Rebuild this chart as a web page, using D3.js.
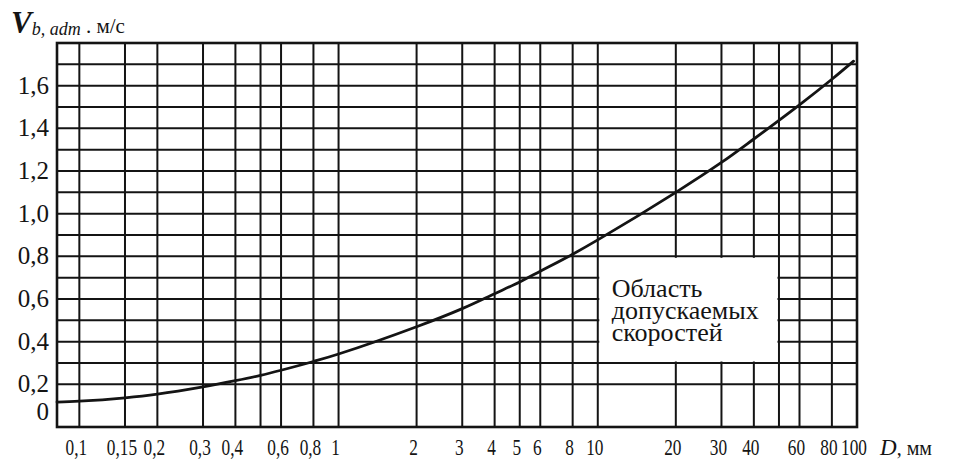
<!DOCTYPE html>
<html>
<head>
<meta charset="utf-8">
<script src="https://cdn.jsdelivr.net/npm/d3@7"></script>
<style>
  html, body { margin: 0; padding: 0; background: #fff; }
  svg { display: block; font-family: "Liberation Serif", "Times New Roman", serif; }
</style>
</head>
<body>
<svg id="chart" width="960" height="463"></svg>
<script>
// ---- data ----
const xDomain = [0.082, 100];
const yDomain = [0, 1.8];
const xGridValues = [0.1, 0.15, 0.2, 0.3, 0.4, 0.5, 0.6, 0.8, 1, 2, 3, 4, 5, 6, 8, 10, 20, 30, 40, 50, 60, 80];
const xTickLabels = [0.1, 0.15, 0.2, 0.3, 0.4, 0.6, 0.8, 1, 2, 3, 4, 5, 6, 8, 10, 20, 30, 40, 60, 80, 100];
const yGridValues = [0.2, 0.3, 0.4, 0.5, 0.6, 0.7, 0.8, 0.9, 1.0, 1.1, 1.2, 1.3, 1.4, 1.5, 1.6, 1.7];
const yTickLabels = [0, 0.2, 0.4, 0.6, 0.8, 1.0, 1.2, 1.4, 1.6];
const curveD = [0.082, 0.1, 0.15, 0.2, 0.3, 0.4, 0.5, 0.6, 0.8, 1, 2, 3, 4, 5, 6, 8, 10, 20, 30, 40, 60, 80, 97];
const curveV = [0.117, 0.121, 0.137, 0.154, 0.188, 0.217, 0.242, 0.266, 0.307, 0.342, 0.47, 0.555, 0.625, 0.68, 0.73, 0.81, 0.877, 1.10, 1.24, 1.35, 1.51, 1.63, 1.715];
const regionBox = { d0: 10, d1: 50, v0: 0.8, v1: 0.3 };
const regionText = ["Область", "допускаемых", "скоростей"];

// ---- drawing ----
const svg = d3.select("#chart");
const ink = "#141414";
const x = d3.scaleLog().domain(xDomain).range([57, 857]);
const y = d3.scaleLinear().domain(yDomain).range([427, 43]);

// grid
const grid = svg.append("g").attr("stroke", ink).attr("stroke-width", 2);
grid.selectAll("line.v").data(xGridValues).join("line")
  .attr("x1", d => x(d)).attr("x2", d => x(d))
  .attr("y1", y(yDomain[1])).attr("y2", y(yDomain[0]));
grid.selectAll("line.h").data(yGridValues).join("line")
  .attr("x1", x(xDomain[0])).attr("x2", x(xDomain[1]))
  .attr("y1", d => y(d)).attr("y2", d => y(d));

// region box (white, keeps bordering grid lines)
svg.append("rect")
  .attr("x", x(regionBox.d0) + 1.5)
  .attr("y", y(regionBox.v0) + 1.5)
  .attr("width", x(regionBox.d1) - x(regionBox.d0) - 3)
  .attr("height", y(regionBox.v1) - y(regionBox.v0) - 3)
  .attr("fill", "#fff");

// frame
svg.append("rect")
  .attr("x", x(xDomain[0])).attr("y", y(yDomain[1]))
  .attr("width", x(xDomain[1]) - x(xDomain[0]))
  .attr("height", y(yDomain[0]) - y(yDomain[1]))
  .attr("fill", "none").attr("stroke", ink).attr("stroke-width", 2.6);

// curve
const pts = curveD.map((d, i) => [d, curveV[i]]);
svg.append("path")
  .datum(pts)
  .attr("fill", "none").attr("stroke", ink).attr("stroke-width", 2.8)
  .attr("stroke-linecap", "round")
  .attr("d", d3.line().x(d => x(d[0])).y(d => y(d[1])).curve(d3.curveCatmullRom.alpha(0.5)));

// region text (one text element, three lines)
const rt = svg.append("text")
  .attr("x", x(regionBox.d0) + 14)
  .attr("y", y(regionBox.v0) + 41)
  .attr("font-size", 26)
  .attr("fill", ink);
rt.selectAll("tspan").data(regionText).join("tspan")
  .attr("x", x(regionBox.d0) + 14)
  .attr("dy", (d, i) => i === 0 ? 0 : 22)
  .text(d => d);

// y tick labels
const yfmt = v => v === 0 ? "0" : d3.format(".1f")(v).replace(".", ",");
svg.append("g").selectAll("text").data(yTickLabels).join("text")
  .attr("x", 49)
  .attr("y", d => y(d) + 8 - (d === 0 ? 15 : 0))
  .attr("text-anchor", "end")
  .attr("font-size", 25)
  .attr("fill", ink)
  .text(yfmt);

// x tick labels (condensed)
const xfmt = v => String(v).replace(".", ",");
const xl = svg.append("g").selectAll("g").data(xTickLabels).join("g")
  .attr("transform", d => `translate(${x(d) - 3},455)`);
xl.append("text")
  .attr("transform", "scale(0.72,1)")
  .attr("text-anchor", "middle")
  .attr("font-size", 24)
  .attr("fill", ink)
  .text(xfmt);

// axis titles
const yt = svg.append("text").attr("x", 11).attr("y", 33).attr("fill", ink);
yt.append("tspan").attr("font-size", 31).attr("font-style", "italic").attr("font-weight", "bold").text("V");
yt.append("tspan").attr("font-size", 18).attr("font-style", "italic").attr("dy", 2).text("b, adm");
yt.append("tspan").attr("font-size", 21).attr("dy", -2).text(" . м/с");

const xt = svg.append("text").attr("x", 880).attr("y", 455).attr("fill", ink);
xt.append("tspan").attr("font-size", 23).attr("font-style", "italic").text("D");
xt.append("tspan").attr("font-size", 20).text(", мм");
</script>
</body>
</html>
